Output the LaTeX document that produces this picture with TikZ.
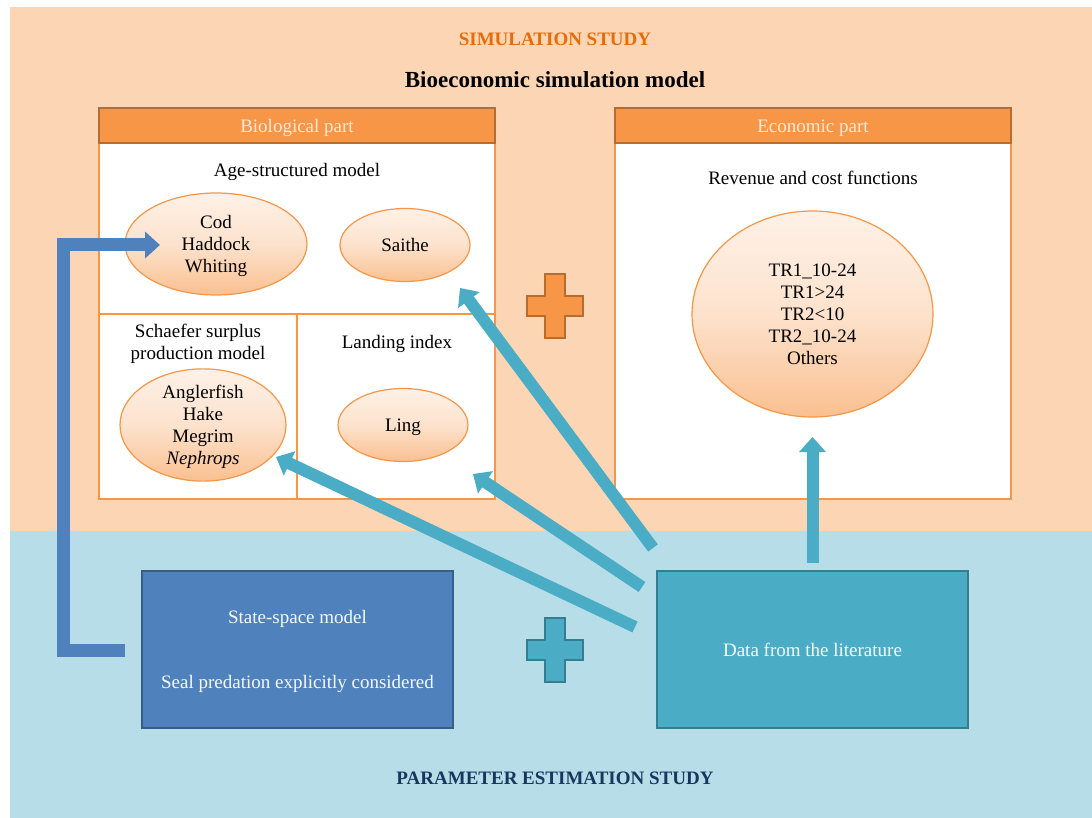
\documentclass[tikz,border=0pt]{standalone}
\usepackage{fontspec}
\setmainfont{Liberation Serif}
\usetikzlibrary{arrows.meta,shapes.geometric}

\definecolor{peach}{HTML}{FCD5B5}
\definecolor{skyband}{HTML}{B7DEE8}
\definecolor{orangehead}{HTML}{F79646}
\definecolor{orangeedge}{HTML}{B66D31}
\definecolor{titleorange}{HTML}{E46C0A}
\definecolor{headtext}{HTML}{FDE9D9}
\definecolor{ssmblue}{HTML}{4F81BD}
\definecolor{ssmedge}{HTML}{385D8A}
\definecolor{datateal}{HTML}{4BACC6}
\definecolor{dataedge}{HTML}{357D91}
\definecolor{navytext}{HTML}{17375E}
\definecolor{ellipselight}{HTML}{FEF1E7}
\definecolor{ellipsedark}{HTML}{FAC090}

\tikzset{
  txt/.style={font=\fontsize{19}{22}\selectfont, align=center, inner sep=0pt, text depth=0pt},
  species/.style={txt, ellipse, draw=orangehead, line width=1.2pt,
    top color=ellipselight, bottom color=ellipsedark, middle color=ellipselight!70!ellipsedark},
  panel/.style={draw=orangehead, line width=2.5pt, fill=white},
  panelhead/.style={draw=orangeedge, line width=2.5pt, fill=orangehead},
  tealconn/.style={datateal, line width=12pt, -{Triangle[width=26pt,length=15pt]}},
  blueconn/.style={ssmblue, line width=13pt, line join=miter, -{Triangle[width=26pt,length=15pt]}}
}

\begin{document}
\begin{tikzpicture}[x=1pt,y=-1pt]
  \useasboundingbox (0,0) rectangle (1092,818);
  \fill[peach] (10,7) rectangle (1092,531);
  \fill[skyband] (10,531) rectangle (1092,818);

  \node[txt,font=\fontsize{19}{22}\selectfont\bfseries,text=titleorange] (simtitle) at (555,39) {SIMULATION STUDY};
  \node[txt,font=\fontsize{23}{27}\selectfont\bfseries] (bioeco) at (555,80) {Bioeconomic simulation model};
  \node[txt,font=\fontsize{19}{22}\selectfont\bfseries,text=navytext] (esttitle) at (555,778) {PARAMETER ESTIMATION STUDY};

  \draw[panel] (99,143) rectangle (495,499);
  \draw[orangehead,line width=1.5pt] (99,314) -- (495,314) (297,314) -- (297,499);
  \draw[panelhead] (99,108) rectangle (495,143);
  \node[txt,text=headtext] (biohead) at (297,126) {Biological part};

  \draw[panel] (615,143) rectangle (1011,499);
  \draw[panelhead] (615,108) rectangle (1011,143);
  \node[txt,text=headtext] (ecohead) at (813,126) {Economic part};

  \node[txt] (agemodel) at (297,170) {Age-structured model};
  \node[species,minimum width=182pt,minimum height=102pt] (cod) at (216,244) {Cod\\Haddock\\Whiting};
  \node[species,minimum width=130pt,minimum height=73pt] (saithe) at (405,245) {Saithe};
  \node[txt] (schaefer) at (198,342) {Schaefer surplus\\production model};
  \node[txt] (landing) at (397,342) {Landing index};
  \node[species,minimum width=166pt,minimum height=104pt] (angler) at (203,425) {Anglerfish\\Hake\\Megrim\\\textit{Nephrops}};
  \node[species,minimum width=130pt,minimum height=73pt] (ling) at (403,425) {Ling};

  \node[txt] (revenue) at (813,178) {Revenue and cost functions};
  \node[species,minimum width=241pt,minimum height=206pt] (fleets) at (812.5,314) {TR1\_10-24\\TR1>24\\TR2<10\\TR2\_10-24\\Others};

  \node[txt,draw=ssmedge,line width=2pt,fill=ssmblue,text=white!95!ssmblue,minimum width=311pt,minimum height=157pt] (ssm) at (297.5,649.5) {State-space model\\[43pt]Seal predation explicitly considered};
  \node[txt,draw=dataedge,line width=2pt,fill=datateal,text=white!95!datateal,minimum width=311pt,minimum height=157pt] (data) at (812.5,649.5) {Data from the literature};

  \foreach \cy/\fillc/\edgec in {306/orangehead/orangeedge, 650/datateal/dataedge}
    \draw[fill=\fillc,draw=\edgec,line width=1.5pt] (545,\cy-32) -- (565,\cy-32) -- (565,\cy-10) -- (583,\cy-10)
      -- (583,\cy+10) -- (565,\cy+10) -- (565,\cy+32) -- (545,\cy+32) -- (545,\cy+10)
      -- (527,\cy+10) -- (527,\cy-10) -- (545,\cy-10) -- cycle;

  \coordinate (ssmtail) at (125,650.5);
  \coordinate (bend) at (63.5,245);
  \coordinate (codtip) at (160,245);
  \draw[blueconn] (ssmtail) -| (bend) -- (codtip);

  \coordinate (fromsaithe) at (653,548);
  \coordinate (tosaithe) at (460,288);
  \coordinate (fromling) at (642,587);
  \coordinate (toling) at (473,474);
  \coordinate (fromangler) at (635,627);
  \coordinate (toangler) at (276,457);
  \coordinate (fromfleets) at (812.5,563);
  \coordinate (tofleets) at (812.5,437);
  \draw[tealconn] (fromsaithe) -- (tosaithe);
  \draw[tealconn] (fromling) -- (toling);
  \draw[tealconn] (fromangler) -- (toangler);
  \draw[tealconn] (fromfleets) -- (tofleets);
\end{tikzpicture}
\end{document}
